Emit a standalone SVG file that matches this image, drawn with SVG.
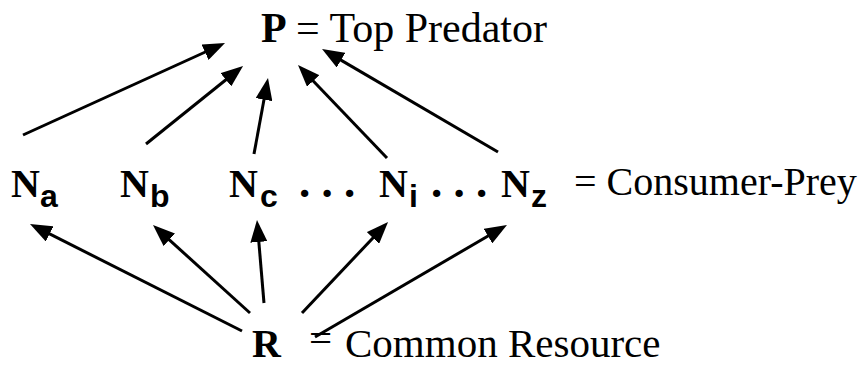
<svg xmlns="http://www.w3.org/2000/svg" width="867" height="366" viewBox="0 0 867 366">
<style>
.b{font-family:"Liberation Serif","Times New Roman",serif;font-weight:bold;font-size:40px;fill:#000}
.r{font-family:"Liberation Serif","Times New Roman",serif;font-size:41px;fill:#000}
.t{font-size:42px}
.d{font-size:45px}
.s{font-family:"Liberation Sans",Arial,sans-serif;font-weight:bold;font-size:32px;fill:#000}
.e{stroke:#000;stroke-width:3;fill:none;marker-end:url(#ah)}
</style>
<defs>
<marker id="ah" markerUnits="userSpaceOnUse" markerWidth="22" markerHeight="17" refX="10" refY="8.5" orient="auto">
<path d="M0,0 L22,8.5 L0,17 z" fill="#000"/>
</marker>
</defs>
<rect width="867" height="366" fill="#fff"/>
<g id="connectors">
<line class="e" x1="23" y1="135" x2="214.1" y2="48"/>
<line class="e" x1="146" y1="144" x2="233.7" y2="73.5"/>
<line class="e" x1="254" y1="154" x2="265.8" y2="89.8"/>
<line class="e" x1="387" y1="158" x2="306.3" y2="73.7"/>
<line class="e" x1="498" y1="152" x2="332.4" y2="55.1"/>
<line class="e" x1="242" y1="331" x2="40.7" y2="229.4"/>
<line class="e" x1="250" y1="313" x2="161.9" y2="233.1"/>
<line class="e" x1="264" y1="303" x2="258" y2="232"/>
<line class="e" x1="302" y1="313" x2="379.8" y2="230.7"/>
<line class="e" x1="315" y1="337" x2="496.6" y2="231"/>
</g>
<g id="P">
<text class="b t" x="261" y="42">P</text>
<text class="r t" x="296" y="42">= Top Predator</text>
</g>
<g id="Na"><text class="b" x="11" y="197">N</text><text class="s" x="40" y="207">a</text></g>
<g id="Nb"><text class="b" x="120" y="197">N</text><text class="s" x="150" y="207">b</text></g>
<g id="Nc"><text class="b" x="229" y="197">N</text><text class="s" x="260" y="207">c</text></g>
<text class="b d" x="299" y="197">. . .</text>
<g id="Ni"><text class="b" x="379" y="197">N</text><text class="s" x="409" y="207">i</text></g>
<text class="b d" x="431" y="197">. . .</text>
<g id="Nz"><text class="b" x="501" y="197">N</text><text class="s" x="531" y="207">z</text></g>
<text class="r" x="574" y="195" style="font-size:40px">= Consumer-Prey</text>
<g id="R">
<text class="b" x="252" y="357">R</text>
<text class="r" x="309" y="352">=</text>
<text class="r" x="345" y="357">Common Resource</text>
</g>
</svg>
